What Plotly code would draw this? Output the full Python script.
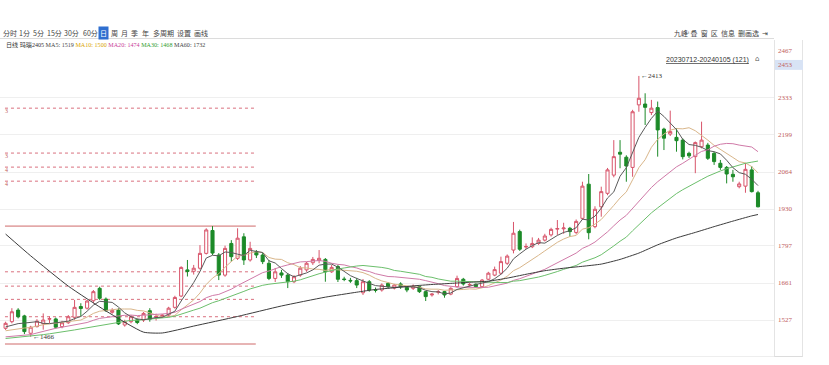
import plotly.graph_objects as go

# ---------------- data ----------------
opens = [1497,1521,1563,1542,1479,1503,1514,1530,1531,1503,1517,1537,1576,1570,1597,1642,1603,1555,1563,1509,
         1521,1528,1527,1561,1537,1540,1545,1573,1614,1709,1704,1715,1769,1852,1763,1690,1805,1751,1829,1745,
         1775,1763,1733,1678,1698,1690,1666,1690,1709,1735,1743,1747,1702,1721,1676,1671,1670,1626,1666,1637,
         1636,1660,1643,1658,1645,1642,1648,1630,1618,1628,1630,1621,1648,1675,1654,1657,1648,1675,1690,1697,
         1733,1781,1848,1792,1793,1805,1817,1836,1857,1858,1860,1845,1896,2020,1866,1938,1987,2053,2136,2118,
         2081,2308,2311,2280,2298,2220,2202,2190,2180,2132,2120,2156,2162,2132,2096,2081,2056,2011,2013,2072,1989]
highs = [1521,1570,1570,1546,1506,1530,1551,1540,1536,1524,1545,1600,1588,1600,1636,1648,1609,1570,1570,1528,
         1545,1532,1556,1570,1550,1548,1575,1615,1722,1745,1727,1799,1860,1868,1770,1797,1817,1860,1842,1811,
         1781,1770,1745,1716,1709,1698,1690,1723,1738,1756,1781,1752,1727,1727,1684,1680,1680,1676,1672,1645,
         1660,1665,1658,1664,1650,1656,1652,1633,1625,1636,1633,1646,1688,1680,1662,1660,1676,1702,1721,1757,
         1765,1883,1855,1805,1827,1825,1840,1862,1890,1880,1865,1892,2029,2057,1940,2011,2079,2180,2180,2125,
         2290,2413,2350,2326,2320,2225,2287,2224,2186,2138,2175,2247,2170,2138,2108,2086,2072,2029,2097,2086,1996]
lows = [1491,1515,1533,1476,1466,1500,1492,1516,1496,1497,1513,1528,1540,1565,1588,1600,1557,1550,1509,1503,
        1515,1512,1520,1521,1525,1536,1540,1568,1610,1685,1692,1710,1765,1763,1672,1684,1738,1745,1727,1739,
        1752,1730,1672,1665,1680,1643,1661,1684,1702,1727,1733,1666,1698,1665,1668,1662,1643,1618,1630,1627,
        1630,1642,1638,1640,1628,1636,1625,1596,1612,1620,1608,1617,1645,1652,1648,1644,1644,1672,1686,1692,
        1727,1769,1778,1785,1788,1800,1812,1830,1836,1840,1829,1838,1890,1820,1860,1902,1980,2045,2078,2029,
        2047,2283,2235,2271,2120,2144,2195,2138,2110,2115,2060,2150,2108,2090,2072,2023,2029,2005,1989,1990,1936]
closes = [1515,1557,1539,1485,1501,1523,1527,1532,1501,1517,1539,1573,1569,1596,1630,1606,1561,1562,1513,1521,
          1539,1518,1551,1530,1540,1545,1570,1609,1718,1703,1715,1769,1854,1770,1690,1787,1757,1824,1745,1787,
          1763,1739,1678,1702,1690,1666,1684,1715,1733,1747,1751,1702,1718,1675,1674,1669,1654,1666,1636,1635,
          1654,1648,1654,1648,1636,1650,1630,1612,1621,1630,1618,1642,1678,1658,1656,1648,1672,1697,1710,1739,
          1759,1842,1784,1794,1805,1817,1832,1856,1859,1861,1848,1885,2013,1844,1929,1993,2072,2120,2129,2086,
          2283,2332,2299,2296,2217,2187,2211,2178,2120,2123,2171,2180,2114,2102,2081,2057,2047,2021,2074,1993,1938]

ma5 = [1502,1508,1514,1516,1519,1521,1515,1514,1517,1520,1523,1532,1540,1559,1581,1595,1592,1591,1574,1553,
       1539,1531,1528,1532,1536,1537,1547,1559,1596,1629,1663,1703,1752,1762,1760,1774,1772,1766,1761,1780,
       1775,1772,1742,1734,1714,1695,1684,1691,1698,1709,1726,1730,1730,1719,1704,1688,1678,1668,1660,1652,
       1649,1648,1645,1648,1648,1647,1644,1635,1630,1629,1622,1625,1638,1645,1650,1656,1662,1666,1677,1693,
       1715,1749,1767,1784,1797,1808,1806,1821,1834,1845,1851,1862,1893,1890,1904,1933,1970,1992,2049,2080,
       2138,2190,2226,2259,2285,2266,2242,2218,2183,2164,2161,2154,2142,2138,2130,2107,2080,2062,2056,2038,2015]
ma10 = [1488,1492,1496,1498,1500,1506,1510,1513,1516,1520,1522,1524,1527,1538,1551,1559,1562,1566,1567,1567,
        1567,1562,1560,1553,1545,1538,1539,1544,1564,1583,1600,1625,1656,1679,1695,1719,1738,1759,1762,1770,
        1775,1772,1754,1748,1747,1735,1728,1717,1716,1712,1711,1707,1711,1709,1707,1707,1704,1699,1690,1678,
        1669,1663,1657,1654,1650,1648,1646,1640,1639,1639,1635,1635,1637,1638,1640,1639,1644,1652,1661,1672,
        1686,1706,1717,1731,1745,1762,1778,1794,1809,1821,1830,1834,1857,1862,1875,1892,1916,1943,1970,1992,
        2036,2080,2109,2154,2183,2202,2216,2222,2221,2225,2214,2198,2180,2161,2147,2134,2117,2102,2097,2084,2061]
ma20 = [1466,1468,1470,1472,1474,1480,1486,1492,1497,1501,1505,1508,1512,1518,1526,1533,1536,1540,1542,1544,
        1545,1543,1544,1546,1548,1549,1551,1555,1566,1575,1584,1594,1608,1616,1620,1629,1639,1652,1663,1677,
        1688,1699,1705,1714,1721,1727,1733,1738,1739,1741,1743,1740,1733,1729,1727,1721,1716,1708,1703,1695,
        1690,1685,1684,1682,1679,1678,1675,1670,1665,1659,1652,1649,1647,1646,1645,1644,1645,1646,1650,1656,
        1661,1671,1677,1685,1693,1701,1711,1723,1735,1747,1758,1770,1787,1797,1810,1827,1847,1869,1890,1907,
        1933,1957,1983,2008,2029,2047,2066,2083,2096,2109,2125,2139,2145,2158,2165,2168,2167,2162,2159,2155,2138]
ma30 = [1460,1462,1464,1466,1468,1471,1474,1477,1480,1483,1487,1491,1495,1499,1503,1507,1511,1515,1519,1523,
        1526,1526,1528,1530,1532,1534,1537,1541,1549,1557,1563,1570,1581,1590,1597,1605,1613,1623,1631,1640,
        1647,1653,1657,1660,1662,1664,1668,1673,1681,1688,1695,1701,1707,1712,1716,1720,1723,1725,1723,1720,
        1718,1714,1707,1704,1701,1697,1693,1685,1682,1676,1672,1668,1668,1667,1666,1665,1665,1664,1663,1663,
        1663,1668,1670,1674,1678,1683,1689,1695,1703,1711,1717,1725,1737,1744,1753,1764,1779,1796,1813,1828,
        1851,1873,1894,1916,1934,1952,1970,1986,2000,2013,2027,2037,2049,2059,2068,2076,2083,2089,2096,2100,2104]
ma60_idx = [0,4,10,16,22,25,30,37,44,51,56,59,62,65,68,71,74,77,80,83,86,89,92,95,98,101,104,107,110,113,116,119,120]
ma60_val = [1839,1760,1650,1560,1483,1480,1505,1540,1578,1610,1628,1638,1644,1651,1656,1660,1664,1668,1679,1693,
            1706,1715,1722,1730,1747,1770,1800,1825,1845,1866,1886,1905,1910]

fib_solid = [1868, 1440]
fib_dotted = [2296, 2133, 2082, 2031, 1702, 1650, 1602, 1539]
fib_labels = ["3", "3", "4", "4"]
fib_span = [-0.1, 39.9]

axis_ticks = [2333, 2199, 2064, 1930, 1797, 1661, 1527]
axis_top_label = "2467"
cross_price = 2453

toolbar = ["分时", "1分", "5分", "15分", "30分", "60分", "日", "周", "月", "季", "年", "多周期", "设置", "画线"]
toolbar_x = [9.5, 25, 38, 54, 71.5, 90, 103.5, 114.5, 124.5, 134.5, 145.5, 163, 184, 201]
legend_title = "日线 玛瑙2405"
legend_names = ["MA5", "MA10", "MA20", "MA30", "MA60"]
legend_values = [1519, 1500, 1474, 1468, 1732]
legend_colors = ["#444444", "#d9a400", "#c8409a", "#2f9e2f", "#444444"]
range_label = "20230712-20240105 (121)"
hi_label, hi_idx = 2413, 101
lo_label, lo_idx = 1466, 4

# ---------------- geometry ----------------
W, H = 829, 365
PL, PR, PT, PB = 0, 774, 38, 357   # plot area in pixels
SPACING, X0 = 6.27, 5.6


def px(x):
    return (x - PL) / (PR - PL)


def py(y):
    return (PB - y) / (PB - PT)


k = list(range(len(closes)))
fig = go.Figure()

CJK = "Noto Sans CJK SC"
SERIF = "Liberation Serif"

fig.add_trace(go.Candlestick(
    x=k, open=opens, high=highs, low=lows, close=closes,
    increasing=dict(line=dict(color="#d8546a", width=1), fillcolor="#ffffff"),
    decreasing=dict(line=dict(color="#1c8a28", width=1), fillcolor="#1c8a28"),
    whiskerwidth=0, showlegend=False, hoverinfo="skip"))

for vals, col in [(ma10, "#d9b68a"), (ma20, "#d07aa8"), (ma30, "#6cbf6c"), (ma5, "#5a5a5a")]:
    fig.add_trace(go.Scatter(x=k, y=vals, mode="lines", line=dict(color=col, width=1),
                             showlegend=False, hoverinfo="skip"))
fig.add_trace(go.Scatter(x=ma60_idx, y=ma60_val, mode="lines",
                         line=dict(color="#3c3c3c", width=1, shape="spline", smoothing=0.5),
                         showlegend=False, hoverinfo="skip"))

shapes = []
for lv in fib_solid:
    shapes.append(dict(type="line", xref="x", yref="y", x0=fib_span[0], x1=fib_span[1], y0=lv, y1=lv,
                       line=dict(color="#cf6a6a", width=1), layer="below"))
for lv in fib_dotted:
    shapes.append(dict(type="line", xref="x", yref="y", x0=fib_span[0], x1=fib_span[1], y0=lv, y1=lv,
                       line=dict(color="#d9707e", width=1, dash="dot"), layer="below"))
# frame lines
shapes.append(dict(type="line", xref="paper", yref="paper", x0=0, x1=1, y0=py(38.5), y1=py(38.5),
                   line=dict(color="#dcdcdc", width=1)))
shapes.append(dict(type="line", xref="paper", yref="paper", x0=0, x1=1, y0=py(356.5), y1=py(356.5),
                   line=dict(color="#eeeeee", width=1)))
shapes.append(dict(type="line", xref="paper", yref="paper", x0=px(774.5), x1=px(774.5), y0=py(40), y1=py(357),
                   line=dict(color="#e4e4e4", width=1)))
shapes.append(dict(type="line", xref="paper", yref="paper", x0=px(802.5), x1=px(802.5), y0=py(40), y1=py(357),
                   line=dict(color="#e4e4e4", width=1)))
shapes.append(dict(type="line", xref="paper", yref="paper", x0=px(774.5), x1=px(802.5), y0=py(356.5), y1=py(356.5),
                   line=dict(color="#dcdcdc", width=1)))
# crosshair price box
shapes.append(dict(type="rect", xref="paper", yref="y", x0=px(775), x1=px(803),
                   y0=cross_price - 18, y1=cross_price + 18, fillcolor="#d8e3f5", line=dict(width=0)))

ann = []
# toolbar
for t, x in zip(toolbar, toolbar_x):
    sel = (t == "日")
    ann.append(dict(text=t, x=px(x), y=py(33), xref="paper", yref="paper", showarrow=False,
                    xanchor="center", yanchor="middle",
                    font=dict(family=CJK, size=7, color="#ffffff" if sel else "#444444"),
                    bgcolor="#2f6fd0" if sel else None, borderpad=1))
ann.append(dict(text="九峰ⁱ 叠  窗  区  信息  删画选  ⇥", x=px(770), y=py(33), xref="paper", yref="paper",
                showarrow=False, xanchor="right", yanchor="middle",
                font=dict(family=CJK, size=7, color="#444444")))
# legend line (one text with coloured parts)
parts = [legend_title]
for n, v, c in zip(legend_names, legend_values, legend_colors):
    parts.append(f"<span style='color:{c}'>{n}: {v}</span>")
ann.append(dict(text=" ".join(parts), x=px(4), y=py(45), xref="paper", yref="paper", showarrow=False,
                xanchor="left", yanchor="middle",
                font=dict(family=SERIF + ", " + CJK, size=6.1, color="#333333")))
# date range
ann.append(dict(text=range_label, x=px(751), y=py(60), xref="paper", yref="paper", showarrow=False,
                xanchor="right", yanchor="middle",
                font=dict(family="Liberation Sans", size=7, color="#333333", lineposition="under")))
ann.append(dict(text="⌂", x=px(753), y=py(59), xref="paper", yref="paper", showarrow=False,
                xanchor="left", yanchor="middle", font=dict(family="DejaVu Sans", size=7, color="#555555")))
# right axis labels
for t in axis_ticks:
    ann.append(dict(text=str(t), x=px(776), y=t, xref="paper", yref="y", showarrow=False,
                    xanchor="left", yanchor="middle", font=dict(family=SERIF, size=7, color="#c0605c")))
ann.append(dict(text=axis_top_label, x=px(776), y=py(51), xref="paper", yref="paper", showarrow=False,
                xanchor="left", yanchor="middle", font=dict(family=SERIF, size=7, color="#c0605c")))
ann.append(dict(text=str(cross_price), x=px(776), y=cross_price, xref="paper", yref="y", showarrow=False,
                xanchor="left", yanchor="middle", font=dict(family=SERIF, size=7, color="#c0605c")))
# extremes
ann.append(dict(text="←" + str(hi_label), x=hi_idx, y=hi_label, xref="x", yref="y", showarrow=False,
                xanchor="left", yanchor="middle",
                font=dict(family=SERIF, size=7, color="#333333")))
ann.append(dict(text="←" + str(lo_label), x=lo_idx, y=lo_label, xref="x", yref="y", showarrow=False,
                xanchor="left", yanchor="middle",
                font=dict(family=SERIF, size=7, color="#333333")))
# fib labels
for t, lv in zip(fib_labels, fib_dotted[:4]):
    ann.append(dict(text=t, x=px(3), y=lv, xref="paper", yref="y", showarrow=False, yshift=-3,
                    xanchor="left", yanchor="middle", font=dict(family=SERIF, size=6, color="#c0605c")))

per_px = 134.3 / 37.0
y_top = 1930 + (209 - PT) * per_px
y_bot = 1930 - (PB - 209) * per_px
x_lo = (PL - X0) / SPACING
x_hi = (PR - X0) / SPACING

fig.update_layout(
    width=W, height=H,
    margin=dict(l=PL, r=W - PR, t=PT, b=H - PB, pad=0),
    paper_bgcolor="#ffffff", plot_bgcolor="#ffffff",
    xaxis=dict(range=[x_lo, x_hi], visible=False, rangeslider=dict(visible=False), fixedrange=True),
    yaxis=dict(range=[y_bot, y_top], tickvals=axis_ticks, showticklabels=False, showgrid=True,
               gridcolor="#efefef", gridwidth=1, zeroline=False, showline=False, ticks="", fixedrange=True),
    shapes=shapes, annotations=ann, showlegend=False,
)

fig.write_html("out.html", config={"displayModeBar": False},
               post_script="document.body.style.margin='0px';document.body.style.overflow='hidden';")
